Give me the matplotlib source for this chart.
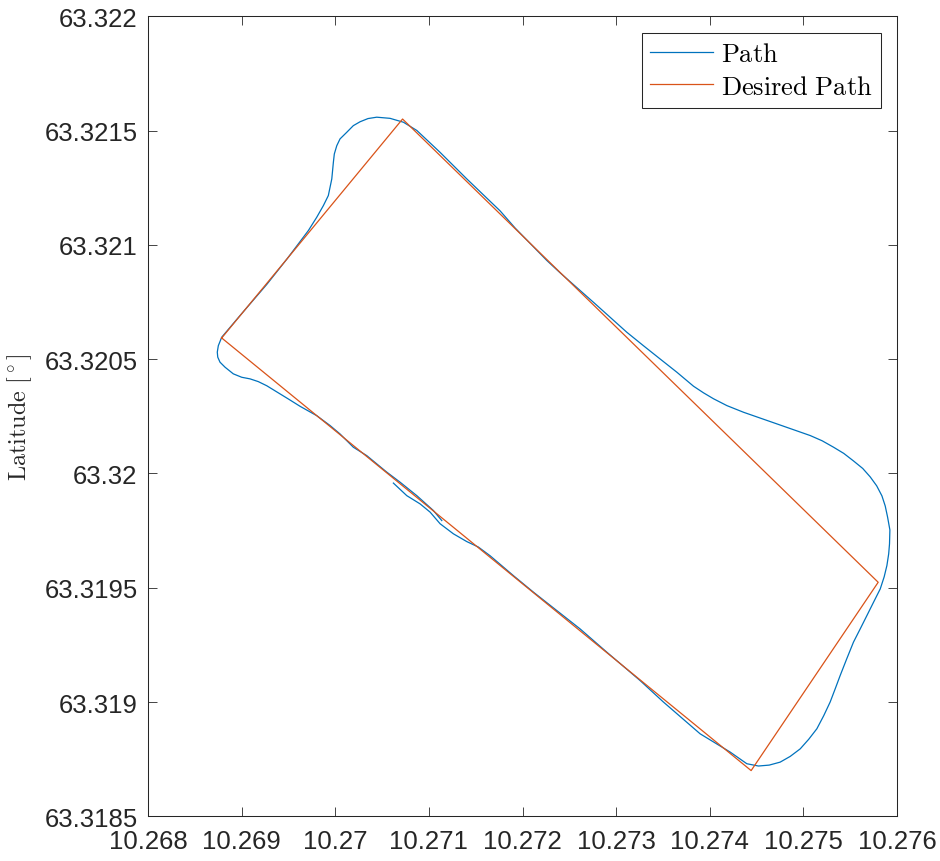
import numpy as np
import matplotlib
matplotlib.use("Agg")
import matplotlib.pyplot as plt
from matplotlib.ticker import FixedLocator

# measured path (longitude, latitude)
path_lon = [10.270621, 10.270764, 10.270906, 10.271013, 10.271120, 10.271262, 10.271405, 10.271529,
            10.271654, 10.271903, 10.272116, 10.272615, 10.272901, 10.273256, 10.273505, 10.273897,
            10.274218, 10.274396, 10.274520, 10.274635, 10.274752, 10.274859, 10.274966, 10.275057,
            10.275144, 10.275217, 10.275286, 10.275340, 10.275393, 10.275463, 10.275535, 10.275607,
            10.275678, 10.275751, 10.275821, 10.275863, 10.275892, 10.275911, 10.275920, 10.275924,
            10.275899, 10.275874, 10.275839, 10.275783, 10.275714, 10.275634, 10.275535, 10.275431,
            10.275322, 10.275201, 10.275073, 10.274717, 10.274360, 10.274183, 10.274040, 10.273933,
            10.273826, 10.273649, 10.273470, 10.273292, 10.273114, 10.272758, 10.272402, 10.272260,
            10.271921, 10.271761, 10.271405, 10.271120, 10.270871, 10.270728, 10.270585, 10.270443,
            10.270350, 10.270265, 10.270193, 10.270123, 10.270051, 10.270016, 10.269990, 10.269980,
            10.269963, 10.269926, 10.269873, 10.269802, 10.269713, 10.269485, 10.269268, 10.268983,
            10.268787, 10.268751, 10.268740, 10.268745, 10.268769, 10.268823, 10.268911, 10.269001,
            10.269090, 10.269178, 10.269268, 10.269499, 10.269624, 10.269802, 10.269944, 10.270051,
            10.270193, 10.270337, 10.270550, 10.270692, 10.270871, 10.271048, 10.271138]
path_lat = [63.319958, 63.319903, 63.319867, 63.319831, 63.319780, 63.319736, 63.319702, 63.319678,
            63.319640, 63.319553, 63.319481, 63.319320, 63.319218, 63.319094, 63.319000, 63.318861,
            63.318781, 63.318730, 63.318720, 63.318724, 63.318737, 63.318762, 63.318795, 63.318837,
            63.318883, 63.318940, 63.319000, 63.319058, 63.319116, 63.319189, 63.319262, 63.319320,
            63.319378, 63.319438, 63.319495, 63.319548, 63.319597, 63.319648, 63.319692, 63.319753,
            63.319810, 63.319858, 63.319902, 63.319946, 63.319985, 63.320022, 63.320055, 63.320088,
            63.320115, 63.320143, 63.320166, 63.320217, 63.320268, 63.320297, 63.320327, 63.320353,
            63.320382, 63.320443, 63.320501, 63.320559, 63.320618, 63.320749, 63.320878, 63.320932,
            63.321074, 63.321149, 63.321289, 63.321405, 63.321501, 63.321537, 63.321554, 63.321559,
            63.321553, 63.321539, 63.321522, 63.321493, 63.321464, 63.321434, 63.321398, 63.321362,
            63.321289, 63.321216, 63.321172, 63.321121, 63.321063, 63.320939, 63.320827, 63.320691,
            63.320596, 63.320559, 63.320531, 63.320509, 63.320487, 63.320465, 63.320436, 63.320421,
            63.320414, 63.320402, 63.320384, 63.320326, 63.320294, 63.320253, 63.320210, 63.320173,
            63.320115, 63.320078, 63.320006, 63.319962, 63.319903, 63.319838, 63.319794]

# desired path corners
desired_lon = [10.268787, 10.270719, 10.275799, 10.274442, 10.268787]
desired_lat = [63.320593, 63.321551, 63.319524, 63.318700, 63.320593]

xticks = [10.268, 10.269, 10.270, 10.271, 10.272, 10.273, 10.274, 10.275, 10.276]
xlabels = ["10.268", "10.269", "10.27", "10.271", "10.272", "10.273", "10.274", "10.275", "10.276"]
yticks = [63.3185, 63.319, 63.3195, 63.320, 63.3205, 63.321, 63.3215, 63.322]
ylabels = ["63.3185", "63.319", "63.3195", "63.32", "63.3205", "63.321", "63.3215", "63.322"]

plt.rcParams['mathtext.fontset'] = 'cm'
axcol = '#262626'

fig = plt.figure(figsize=(9.4, 8.62), dpi=100)
ax = fig.add_axes([0.15745, 0.05186, 0.79681, 0.92795])

ax.plot(path_lon, path_lat, color='#0072BD', lw=0.9, label=r'$\mathrm{Path}$')
ax.plot(desired_lon, desired_lat, color='#D95319', lw=0.9, label=r'$\mathrm{Desired\ Path}$')

ax.set_xlim(10.268, 10.276)
ax.set_ylim(63.3185, 63.322)
ax.xaxis.set_major_locator(FixedLocator(xticks))
ax.yaxis.set_major_locator(FixedLocator(yticks))
ax.set_xticklabels(xlabels, fontfamily='Liberation Sans', fontsize=18.5, color=axcol)
ax.set_yticklabels(ylabels, fontfamily='Liberation Sans', fontsize=18.5, color=axcol)
ax.tick_params(direction='in', length=6.5, width=0.6, color=axcol, top=True, right=True, pad=7.5)
ax.tick_params(axis='x', pad=9.5)
for s in ax.spines.values():
    s.set_color(axcol)
    s.set_linewidth(0.75)

ax.set_ylabel(r'$\mathrm{Latitude}\ [^\circ]$', fontsize=17.5, color=axcol)
ax.yaxis.set_label_coords(-0.152, 0.5)

leg = ax.legend(loc='upper right', bbox_to_anchor=(0.978, 0.979), borderaxespad=0,
                fontsize=19, fancybox=False, framealpha=1, edgecolor=axcol,
                handlelength=2.4, handletextpad=0.3, labelspacing=0.25, borderpad=0.3)
leg.get_frame().set_linewidth(0.75)

plt.savefig('out.png', dpi=100)
